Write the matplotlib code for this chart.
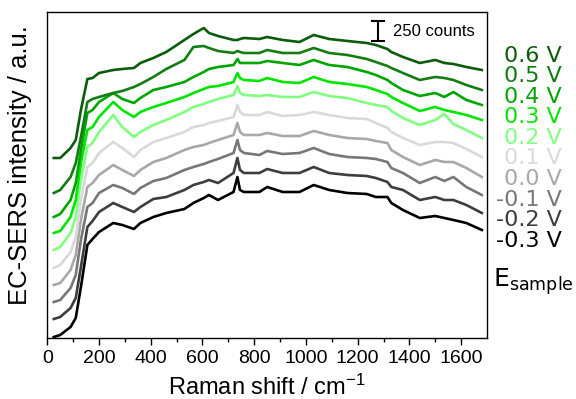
import matplotlib
matplotlib.use("Agg")
import matplotlib.pyplot as plt

plt.rcParams['font.family'] = ['Liberation Sans', 'DejaVu Sans']
plt.rcParams['mathtext.default'] = 'regular'

# Raman shift positions (cm-1)
shift = [25, 50, 90, 110, 130, 155, 175, 200, 255, 290, 335, 360, 410,
         460, 530, 565, 605, 625, 660, 720, 735, 745, 760, 820, 850, 910,
         975, 1030, 1090, 1160, 1235, 1270, 1315, 1330, 1375, 1440, 1500,
         1535, 1570, 1620, 1680]

# stacked (offset) intensities, a.u., one list per sample potential
int_p06 = [180, 180, 190, 198, 228, 259, 260, 265, 268, 269, 270, 275, 280,
           286, 298, 304, 310, 305, 302, 298, 298, 299, 300, 299, 301, 298,
           296, 303, 299, 297, 295, 293, 289, 286, 281, 275, 278, 275, 274,
           271, 268]
int_p05 = [145, 148, 161, 175, 201, 236, 239, 241, 245, 247, 251, 254, 261,
           269, 278, 291, 292, 290, 287, 285, 287, 286, 285, 285, 288, 285,
           285, 290, 285, 283, 279, 276, 272, 270, 265, 258, 261, 260, 258,
           253, 248]
int_p04 = [121, 124, 138, 155, 188, 225, 228, 236, 245, 239, 235, 240, 248,
           251, 256, 261, 266, 269, 271, 273, 279, 275, 275, 275, 277, 275,
           273, 278, 273, 271, 266, 263, 258, 255, 248, 242, 245, 241, 246,
           238, 233]
int_p03 = [105, 107, 121, 138, 175, 208, 211, 221, 236, 228, 221, 226, 231,
           235, 241, 245, 249, 251, 252, 256, 265, 260, 258, 257, 260, 256,
           255, 261, 256, 254, 251, 248, 244, 241, 235, 227, 231, 228, 226,
           223, 218]
int_p02 = [88, 91, 105, 121, 158, 191, 195, 206, 223, 211, 201, 206, 213,
           218, 226, 231, 234, 236, 239, 243, 252, 245, 243, 242, 243, 241,
           241, 246, 242, 240, 235, 233, 231, 227, 220, 213, 218, 224, 214,
           208, 200]
int_p01 = [70, 73, 86, 101, 138, 171, 175, 185, 196, 190, 181, 188, 196,
           200, 206, 211, 213, 215, 217, 221, 233, 226, 223, 223, 226, 222,
           223, 226, 223, 220, 219, 215, 210, 206, 200, 193, 196, 196, 195,
           189, 181]
int_00 = [53, 55, 68, 83, 118, 151, 155, 163, 173, 168, 162, 168, 176,
          180, 188, 191, 193, 195, 198, 203, 215, 206, 203, 203, 205, 202,
          202, 207, 203, 200, 199, 197, 195, 188, 181, 173, 178, 176, 176,
          170, 161]
int_m01 = [36, 38, 50, 63, 98, 131, 135, 145, 153, 150, 144, 150, 157,
           160, 168, 171, 174, 176, 179, 185, 198, 188, 185, 183, 187, 184,
           185, 190, 184, 181, 180, 179, 176, 170, 165, 155, 161, 157, 161,
           151, 143]
int_m02 = [19, 21, 30, 40, 71, 111, 117, 126, 135, 131, 126, 131, 139,
           141, 148, 153, 156, 158, 155, 165, 180, 168, 165, 165, 169, 165,
           165, 171, 165, 163, 162, 160, 156, 151, 148, 138, 141, 138, 138,
           133, 125]
int_m03 = [1, 3, 11, 20, 51, 93, 99, 106, 115, 113, 109, 115, 121,
           125, 129, 135, 140, 143, 138, 146, 161, 148, 146, 146, 151, 146,
           146, 153, 148, 145, 144, 141, 141, 135, 128, 120, 122, 120, 118,
           115, 108]

potentials = ['0.6 V', '0.5 V', '0.4 V', '0.3 V', '0.2 V',
              '0.1 V', '0.0 V', '-0.1 V', '-0.2 V', '-0.3 V']
spectra = [int_p06, int_p05, int_p04, int_p03, int_p02,
           int_p01, int_00, int_m01, int_m02, int_m03]
colors = ['#0b5c0b', '#137d13', '#00a600', '#00e600', '#80ff80',
          '#d9d9d9', '#a8a8a8', '#777777', '#3d3d3d', '#000000']

scale_counts = 250
scale_height = 20  # a.u. equivalent of 250 counts

fig = plt.figure(figsize=(5.76, 3.99), dpi=100)
ax = fig.add_axes([0.0821, 0.1529, 0.7634, 0.8163])

# draw from the bottom trace up so higher potentials sit on top
for y, c in zip(spectra[::-1], colors[::-1]):
    ax.plot(shift, y, color=c, lw=1.9, solid_joinstyle='round')

ax.set_xlim(0, 1700)
ax.set_ylim(0, 325.7)
ax.set_xticks(range(0, 1601, 200))
ax.set_xticks(range(100, 1700, 200), minor=True)
ax.set_yticks([])
ax.tick_params(axis='x', which='major', direction='out', length=5,
               width=1, pad=3.5, labelsize=14)
ax.tick_params(axis='x', which='minor', direction='out', length=3, width=1)
for s in ax.spines.values():
    s.set_linewidth(1.0)

ax.set_xlabel('Raman shift / cm$^{-1}$', fontsize=17, labelpad=6)
ax.set_ylabel('EC-SERS intensity / a.u.', fontsize=18.5)
ax.yaxis.set_label_coords(-0.035, 0.53)

# scale bar
ax.errorbar([1277], [306.7], yerr=scale_height / 2, color='k', lw=1.5,
            capsize=5, capthick=1.5)
ax.text(1335, 306.7, f'{scale_counts} counts', fontsize=12,
        ha='left', va='center')

# potential labels on the right
for i, (lab, c) in enumerate(zip(potentials, colors)):
    fig.text(562 / 576, 1 - (61.5 + 20.6 * i) / 399, lab, color=c,
             fontsize=16, family='DejaVu Sans', ha='right', va='baseline')
fig.text(493 / 576, 1 - 286.7 / 399, r'$E_{sample}$', fontsize=18,
         family='DejaVu Sans', ha='left', va='baseline')

fig.savefig('out.png', dpi=100)
